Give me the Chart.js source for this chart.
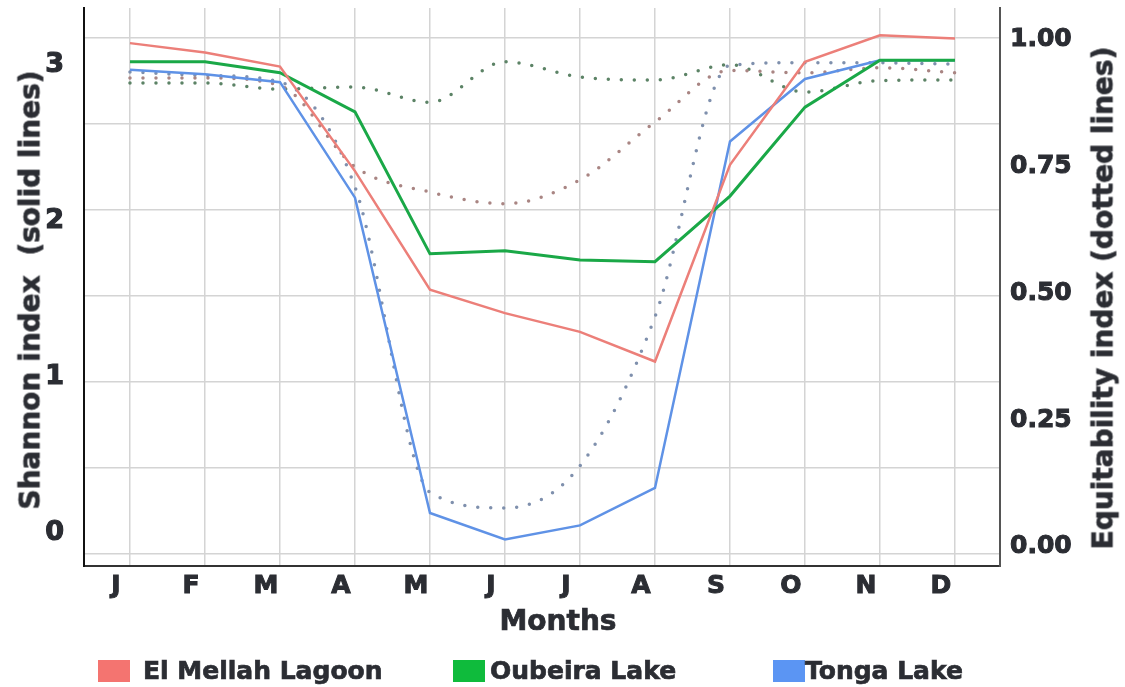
<!DOCTYPE html>
<html>
<head>
<meta charset="utf-8">
<title>Shannon and equitability indices by month</title>
<script src="https://cdn.jsdelivr.net/npm/chart.js@4.4.1/dist/chart.umd.min.js"></script>
<style>
  body { margin: 0; background: #fff; }
  .wrap { position: relative; width: 1125px; height: 687px; font-family: 'DejaVu Sans', sans-serif; font-weight: bold; color: #2b2d33; -webkit-text-stroke: 0.7px #2b2d33; }
  .ttl { position: absolute; font-size: 28px; white-space: pre; transform: translate(-50%, -50%); }
  .ttl.rot { transform: translate(-50%, -50%) rotate(-90deg); }
  .lg-box { position: absolute; width: 32px; height: 22px; top: 660px; }
  .lg-txt { position: absolute; font-size: 25px; top: 670px; transform: translateY(-50%); white-space: nowrap; }
</style>
</head>
<body>
<div class="wrap">
  <canvas id="chart" width="1125" height="687"></canvas>
  <div class="ttl rot" style="left:30px; top:290px">Shannon index  (solid lines)</div>
  <div class="ttl rot" style="left:1103px; top:298px">Equitability index (dotted lines)</div>
  <div class="ttl" style="left:558px; top:620px">Months</div>
  <div id="legend"></div>
</div>
<script>
// ── data ────────────────────────────────────────────────────────────────────
const months = ['J', 'F', 'M', 'A', 'M', 'J', 'J', 'A', 'S', 'O', 'N', 'D'];
const sites = ['El Mellah Lagoon', 'Oubeira Lake', 'Tonga Lake'];

// Shannon index (solid lines, left axis)
const shannonMellah  = [3.14, 3.08, 2.99, 2.32, 1.56, 1.41, 1.29, 1.10, 2.36, 3.02, 3.19, 3.17];
const shannonOubeira = [3.02, 3.02, 2.95, 2.70, 1.79, 1.81, 1.75, 1.74, 2.16, 2.73, 3.03, 3.03];
const shannonTonga   = [2.97, 2.94, 2.89, 2.15, 0.13, -0.04, 0.05, 0.29, 2.51, 2.91, 3.03, 3.03];

// Equitability index (dotted lines, right axis)
const equitMellah  = [0.925, 0.925, 0.91, 0.75, 0.70, 0.677, 0.724, 0.838, 0.94, 0.935, 0.945, 0.935];
const equitOubeira = [0.915, 0.915, 0.903, 0.907, 0.877, 0.957, 0.927, 0.921, 0.951, 0.897, 0.92, 0.921];
const equitTonga   = [0.937, 0.93, 0.917, 0.71, 0.108, 0.077, 0.16, 0.454, 0.95, 0.955, 0.955, 0.952];

const shannonTicks = [0, 1, 2, 3];
const equitTicks = [0, 0.25, 0.5, 0.75, 1];
const gridRows = [0, 1, 2, 3, 4, 5, 6];

// ── style ───────────────────────────────────────────────────────────────────
const lineColors = ['#ec7f79', '#1aa847', '#5f92e6'];
const dotColors = ['#a98583', '#5c8366', '#7f90ad'];
const boxColors = ['#f47470', '#0fbb3c', '#5b95f3'];
const ink = '#2b2d33';
const tickFont = { family: 'DejaVu Sans', size: 25, weight: 'bold' };
const gridColor = '#d4d4d4';

const pts = vals => vals.map((v, i) => ({ x: i, y: v }));

const solid = (label, vals, i) => ({
    label, data: pts(vals), yAxisID: 'y',
    borderColor: lineColors[i], borderWidth: i === 1 ? 3 : 2.5,
    pointRadius: 0, tension: 0, fill: false
});
const dotted = (label, vals, i) => ({
    label, data: pts(vals), yAxisID: 'y1',
    borderColor: dotColors[i], borderWidth: 3.5,
    borderDash: [0, 13], borderCapStyle: 'round',
    cubicInterpolationMode: 'monotone',
    pointRadius: 0, fill: false
});

new Chart(document.getElementById('chart'), {
    type: 'line',
    data: {
        datasets: [
            solid(sites[0], shannonMellah, 0),
            solid(sites[1], shannonOubeira, 1),
            solid(sites[2], shannonTonga, 2),
            dotted(sites[0], equitMellah, 0),
            dotted(sites[1], equitOubeira, 1),
            dotted(sites[2], equitTonga, 2)
        ]
    },
    options: {
        responsive: false,
        animation: false,
        devicePixelRatio: 1,
        layout: { padding: { top: 8, left: 0, right: 0, bottom: 0 } },
        plugins: { legend: { display: false }, tooltip: { enabled: false } },
        scales: {
            x: {
                type: 'linear', min: -0.613, max: 11.6,
                afterBuildTicks: s => { s.ticks = months.map((m, i) => ({ value: i })); },
                afterFit: s => { s.height = 121; s.paddingLeft = 0; s.paddingRight = 0; },
                grid: { color: gridColor, lineWidth: 1.5, drawTicks: false },
                border: { color: '#333', width: 2 },
                ticks: {
                    callback: v => months[v], labelOffset: -14, padding: 5,
                    font: tickFont, color: ink, textStrokeColor: ink, textStrokeWidth: 1,
                    autoSkip: false, maxRotation: 0
                }
            },
            yg: {
                position: 'left', min: -0.1395, max: 6.349,
                afterBuildTicks: s => { s.ticks = gridRows.map(v => ({ value: v })); },
                afterFit: s => { s.width = 0; s.paddingTop = 0; s.paddingBottom = 0; },
                grid: { color: gridColor, lineWidth: 1.5, drawTicks: false },
                border: { display: false },
                ticks: { display: false }
            },
            y: {
                position: 'left', min: -0.21, max: 3.365,
                afterBuildTicks: s => { s.ticks = shannonTicks.map(v => ({ value: v })); },
                afterFit: s => { s.width = 84; s.paddingTop = 0; s.paddingBottom = 0; },
                grid: { display: false },
                border: { color: '#111', width: 2 },
                ticks: {
                    padding: 12, font: { ...tickFont, size: 27 }, color: ink,
                    textStrokeColor: ink, textStrokeWidth: 1.2
                }
            },
            y1: {
                position: 'right', min: -0.0375, max: 1.063,
                afterBuildTicks: s => { s.ticks = equitTicks.map(v => ({ value: v })); },
                afterFit: s => { s.width = 125; s.paddingTop = 0; s.paddingBottom = 0; },
                grid: { display: false },
                border: { color: '#555', width: 2 },
                ticks: {
                    padding: 2, font: tickFont, color: ink,
                    textStrokeColor: ink, textStrokeWidth: 1,
                    callback: v => v.toFixed(2)
                }
            }
        }
    }
});

// legend below the plot, spaced as in the original figure
const legendBoxX = [98, 453, 773];
const legendTextX = [143, 490, 805];
document.getElementById('legend').innerHTML = sites.map((s, i) =>
    `<div class="lg-box" style="left:${legendBoxX[i]}px; background:${boxColors[i]}"></div>` +
    `<div class="lg-txt" style="left:${legendTextX[i]}px">${s}</div>`
).join('');
</script>
</body>
</html>
